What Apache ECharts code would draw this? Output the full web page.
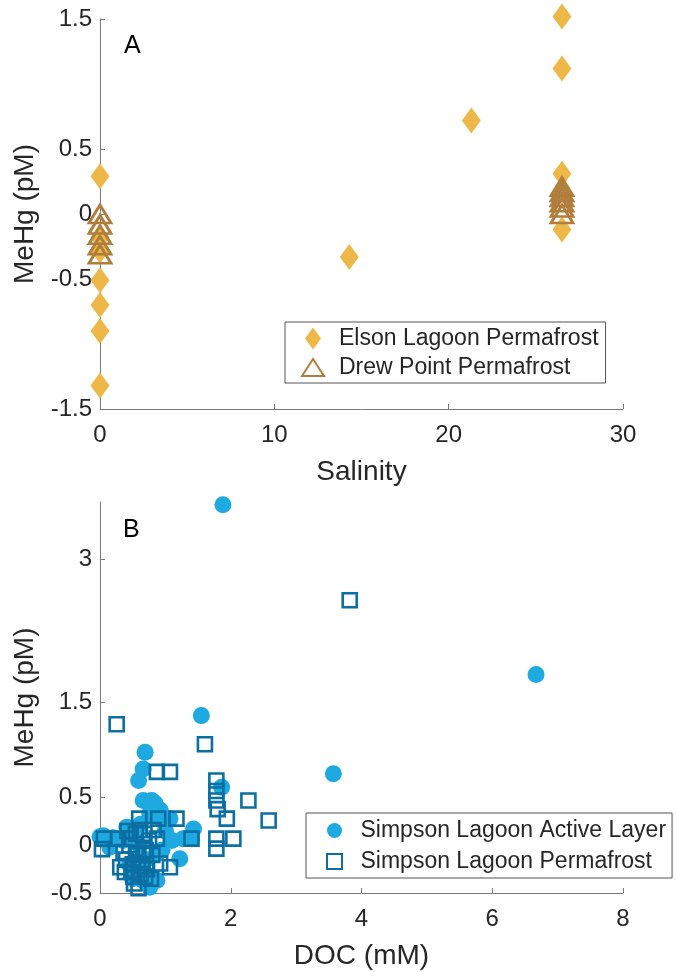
<!DOCTYPE html>
<html>
<head>
<meta charset="utf-8">
<script src="https://cdn.jsdelivr.net/npm/echarts@6/dist/echarts.min.js"></script>
<style>
  html, body { margin: 0; padding: 0; background: #fff; }
  #chart { width: 676px; height: 972px; }
</style>
</head>
<body>
<div id="chart"></div>
<script>
// Panel A: MeHg vs salinity
var salinityElson = [0, 0, 0, 0, 0, 0, 0, 14.3, 21.3, 26.5, 26.5, 26.5, 26.5];
var mehgElson     = [0.29, -0.18, -0.28, -0.51, -0.70, -0.90, -1.32, -0.33, 0.72, 1.52, 1.12, 0.31, -0.12];

var salinityDrew = [0, 0, 0, 0, 0, 26.5, 26.5, 26.5, 26.5, 26.5, 26.5];
var mehgDrew     = [0.0, -0.08, -0.16, -0.24, -0.31, 0.21, 0.17, 0.13, 0.09, 0.05, 0.0];

// Panel B: MeHg vs DOC
var docActive  = [1.88, 6.67, 3.57, 1.55, 0.69, 0.66, 0.59, 0.66, 0.79, 0.84, 0.92, 0.76, 1.86, 1.07, 1.43, 1.40, 1.27, 1.22,
                  0.41, 0.05, 0.00, 0.15, 0.56, 0.66, 0.87, 0.76, 0.87, 0.50, 0.60, 0.70, 0.45, 0.35, 1.00, 0.95, 0.62,
                  0.10, 0.20, 0.50, 0.70, 1.10, 0.90];
var mehgActive = [3.57, 1.79, 0.75, 1.36, 0.975, 0.80, 0.68, 0.47, 0.47, 0.44, 0.37, 0.33, 0.61, 0.28, 0.17, 0.07, 0.07, -0.14,
                  0.19, 0.10, 0.09, -0.02, -0.30, -0.37, -0.37, -0.44, -0.09, 0.10, 0.00, -0.15, -0.20, 0.05, 0.15, -0.05, 0.22,
                  0.05, 0.08, -0.35, -0.30, 0.05, 0.30];

var docPerm  = [0.255, 3.82, 1.605, 0.87, 1.07, 1.78, 1.78, 1.78, 1.80, 1.94, 2.27, 2.58, 2.04, 1.78, 1.78, 1.40, 1.17,
                0.03, 0.06, 0.28, 0.46, 0.61, 0.82, 0.87, 0.60, 0.89, 0.31, 0.51, 0.59, 0.69, 0.92, 1.07, 0.36,
                0.55, 0.70, 0.50, 0.65, 0.80, 0.45, 0.75,
                0.40, 0.48, 0.58, 0.62, 0.72, 0.55, 0.68, 0.42, 0.78, 0.52, 0.66, 0.38];
var mehgPerm = [1.27, 2.57, 1.06, 0.77, 0.77, 0.68, 0.57, 0.47, 0.38, 0.28, 0.47, 0.26, 0.07, 0.07, -0.035, 0.07, 0.28,
                -0.04, 0.07, 0.07, 0.07, 0.16, 0.16, 0.07, 0.28, 0.28, -0.23, -0.33, -0.45, -0.33, -0.19, -0.23, -0.07,
                -0.10, -0.05, -0.20, -0.22, -0.10, 0.00, 0.05,
                -0.15, -0.28, -0.18, -0.30, -0.25, 0.12, 0.12, 0.15, -0.35, -0.40, -0.08, -0.28];

var yTicksA = [-1.5, -0.5, 0, 0.5, 1.5];
var yTicksB = [-0.5, 0, 0.5, 1.5, 3];

function pairs(xs, ys) {
  return xs.map(function (x, i) { return [x, ys[i]]; });
}

var FONT = "'Liberation Sans', Arial, sans-serif";
var TXT = '#262626';
var AXIS = '#7a7a7a';

// legend glyphs that keep their own proportions
var ICON_DIAMOND  = 'path://M8,0 L16,11 L8,22 L0,11 Z';
var ICON_TRIANGLE = 'path://M11,0 L22,17 L0,17 Z';
var ICON_SQUARE   = 'path://M0,0 L12,0 L12,12 L0,12 Z';

function xAxisCfg(idx, min, max, interval, name) {
  return {
    gridIndex: idx, type: 'value', min: min, max: max, interval: interval,
    name: name, nameLocation: 'middle', nameGap: 49,
    nameTextStyle: { fontSize: 28, color: TXT, fontFamily: FONT },
    axisLine: { show: true, onZero: false, lineStyle: { color: AXIS, width: 1 } },
    axisTick: { show: true, inside: true, length: 5, lineStyle: { color: AXIS } },
    axisLabel: { fontSize: 24, color: TXT, fontFamily: FONT, margin: 14 },
    splitLine: { show: false }
  };
}

function yAxisCfg(idx, min, max, ticks) {
  return {
    gridIndex: idx, type: 'value', min: min, max: max,
    name: 'MeHg (pM)', nameLocation: 'middle', nameGap: 55, nameRotate: 90,
    nameTextStyle: { fontSize: 28, color: TXT, fontFamily: FONT },
    axisLine: { show: true, onZero: false, lineStyle: { color: AXIS, width: 1 } },
    axisTick: { show: true, inside: true, length: 5, lineStyle: { color: AXIS }, customValues: ticks },
    axisLabel: { fontSize: 24, color: TXT, fontFamily: FONT, margin: 8, customValues: ticks },
    splitLine: { show: false }
  };
}

var chart = echarts.init(document.getElementById('chart'), null, { renderer: 'canvas' });

chart.setOption({
  animation: false,
  backgroundColor: '#ffffff',
  grid: [
    { left: 100, top: 19, width: 523, height: 390 },
    { left: 100, top: 502, width: 523, height: 391 }
  ],
  xAxis: [
    xAxisCfg(0, 0, 30, 10, 'Salinity'),
    xAxisCfg(1, 0, 8, 2, 'DOC (mM)')
  ],
  yAxis: [
    yAxisCfg(0, -1.5, 1.5, yTicksA),
    yAxisCfg(1, -0.5, 3.6, yTicksB)
  ],
  legend: [
    {
      data: [
        { name: 'Elson Lagoon Permafrost', icon: ICON_DIAMOND },
        { name: 'Drew Point Permafrost', icon: ICON_TRIANGLE }
      ],
      orient: 'vertical', left: 285, top: 322,
      itemWidth: 22, itemHeight: 22, itemGap: 6,
      padding: [5, 7, 4, 16],
      borderColor: '#555', borderWidth: 1,
      textStyle: { fontSize: 23, color: TXT, fontFamily: FONT, padding: [0, 0, 0, 10] }
    },
    {
      data: [
        { name: 'Simpson Lagoon Active Layer', icon: 'circle' },
        { name: 'Simpson Lagoon Permafrost', icon: ICON_SQUARE }
      ],
      orient: 'vertical', left: 306, top: 813,
      itemWidth: 16, itemHeight: 15, itemGap: 8,
      padding: [6, 6, 5, 20],
      borderColor: '#555', borderWidth: 1,
      textStyle: { fontSize: 23, color: TXT, fontFamily: FONT, padding: [0, 0, 0, 13] }
    }
  ],
  graphic: [
    { type: 'text', left: 124, top: 34, style: { text: 'A', fontSize: 25, fill: '#000', fontFamily: FONT } },
    { type: 'text', left: 123, top: 518, style: { text: 'B', fontSize: 25, fill: '#000', fontFamily: FONT } }
  ],
  series: [
    {
      name: 'Elson Lagoon Permafrost', type: 'scatter', xAxisIndex: 0, yAxisIndex: 0, clip: false,
      symbol: 'diamond', symbolSize: [19, 26],
      itemStyle: { color: '#EDB848', opacity: 1 },
      data: pairs(salinityElson, mehgElson)
    },
    {
      name: 'Drew Point Permafrost', type: 'scatter', xAxisIndex: 0, yAxisIndex: 0, clip: false,
      symbol: 'triangle', symbolSize: [22, 18],
      itemStyle: { color: 'rgba(255,255,255,0)', borderColor: '#B07D3A', borderWidth: 2.8, opacity: 1 },
      data: pairs(salinityDrew, mehgDrew)
    },
    {
      name: 'Simpson Lagoon Active Layer', type: 'scatter', xAxisIndex: 1, yAxisIndex: 1, clip: false,
      symbol: 'circle', symbolSize: 17,
      itemStyle: { color: '#1EA9E1', opacity: 1 },
      data: pairs(docActive, mehgActive)
    },
    {
      name: 'Simpson Lagoon Permafrost', type: 'scatter', xAxisIndex: 1, yAxisIndex: 1, clip: false,
      symbol: 'rect', symbolSize: 14,
      itemStyle: { color: 'rgba(255,255,255,0)', borderColor: '#0B6FA4', borderWidth: 2.6, opacity: 1 },
      data: pairs(docPerm, mehgPerm)
    }
  ]
});
</script>
</body>
</html>
